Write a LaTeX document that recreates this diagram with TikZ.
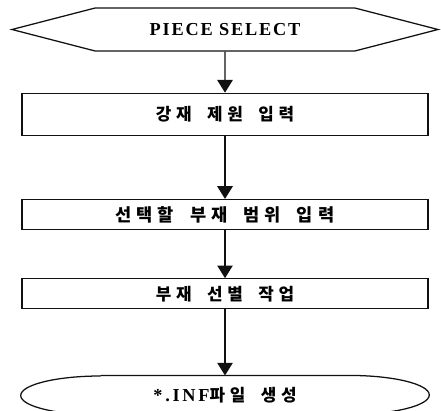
\documentclass[tikz,border=0pt]{standalone}
\usepackage{fontspec}
\setmainfont{Liberation Serif}
\newfontfamily\kor{Noto Sans CJK KR}[LetterSpace=28,WordSpace=1.8]
\usetikzlibrary{arrows.meta,positioning,shapes.symbols}
\definecolor{ink}{HTML}{111111}
\tikzset{
  startbox/.style={
    signal, signal to=west and east, signal pointer angle=29,
    draw=ink, line width=0.9pt,
    minimum width=10.65cm, minimum height=1.075cm,
    inner sep=0pt,
    font=\bfseries\fontsize{13}{15}\selectfont\addfontfeatures{LetterSpace=10}
  },
  stepbox/.style={
    rectangle, draw=ink, line width=0.9pt,
    minimum width=10.15cm, minimum height=#1,
    inner sep=0pt,
    font=\kor\bfseries\fontsize{12}{14}\selectfont
  },
  stepbox/.default=0.75cm,
  endbox/.style={
    minimum width=10.2cm, minimum height=0.975cm,
    inner sep=0pt,
    font=\kor\bfseries\fontsize{12}{14}\selectfont
  },
  outline/.style={draw=ink, line width=0.9pt},
  flowarrow/.style={
    -{Triangle[length=9pt,width=11pt]}, line width=0.9pt, color=ink
  },
}
\begin{document}
\begin{tikzpicture}
  \useasboundingbox (0,0) rectangle (11.025,-10.275);

  % ── Flow ────────────────
  \node[startbox] (sel) at (5.625,-0.7375) {PIECE SELECT};
  \node[stepbox=1.05cm, below=1.025cm of sel] (spec) {강재 제원 입력};
  \node[stepbox, below=1.575cm of spec,
    font=\kor\bfseries\fontsize{12.5}{14}\selectfont] (range)
    {선택할 부재 범위 입력};
  \node[stepbox, below=1.2cm of range] (sort) {부재 선별 작업};
  \node[endbox, below=1.65cm of sort] (inf)
    {{\rmfamily\bfseries\fontsize{13}{15}\selectfont
      \addfontfeatures{LetterSpace=15}*.INF}파일 생성};
  \draw[outline] ([xshift=2cm]inf.north west) -- ([xshift=-2cm]inf.north east)
    arc[start angle=90, end angle=-90, x radius=2cm, y radius=0.4875cm]
    -- ([xshift=2cm]inf.south west)
    arc[start angle=270, end angle=90, x radius=2cm, y radius=0.4875cm];

  % ── Arrows ──────────────
  \draw[flowarrow] (sel) -- (spec);
  \draw[flowarrow] (spec) -- (range);
  \draw[flowarrow] (range) -- (sort);
  \draw[flowarrow] (sort) -- (inf);
\end{tikzpicture}
\end{document}
